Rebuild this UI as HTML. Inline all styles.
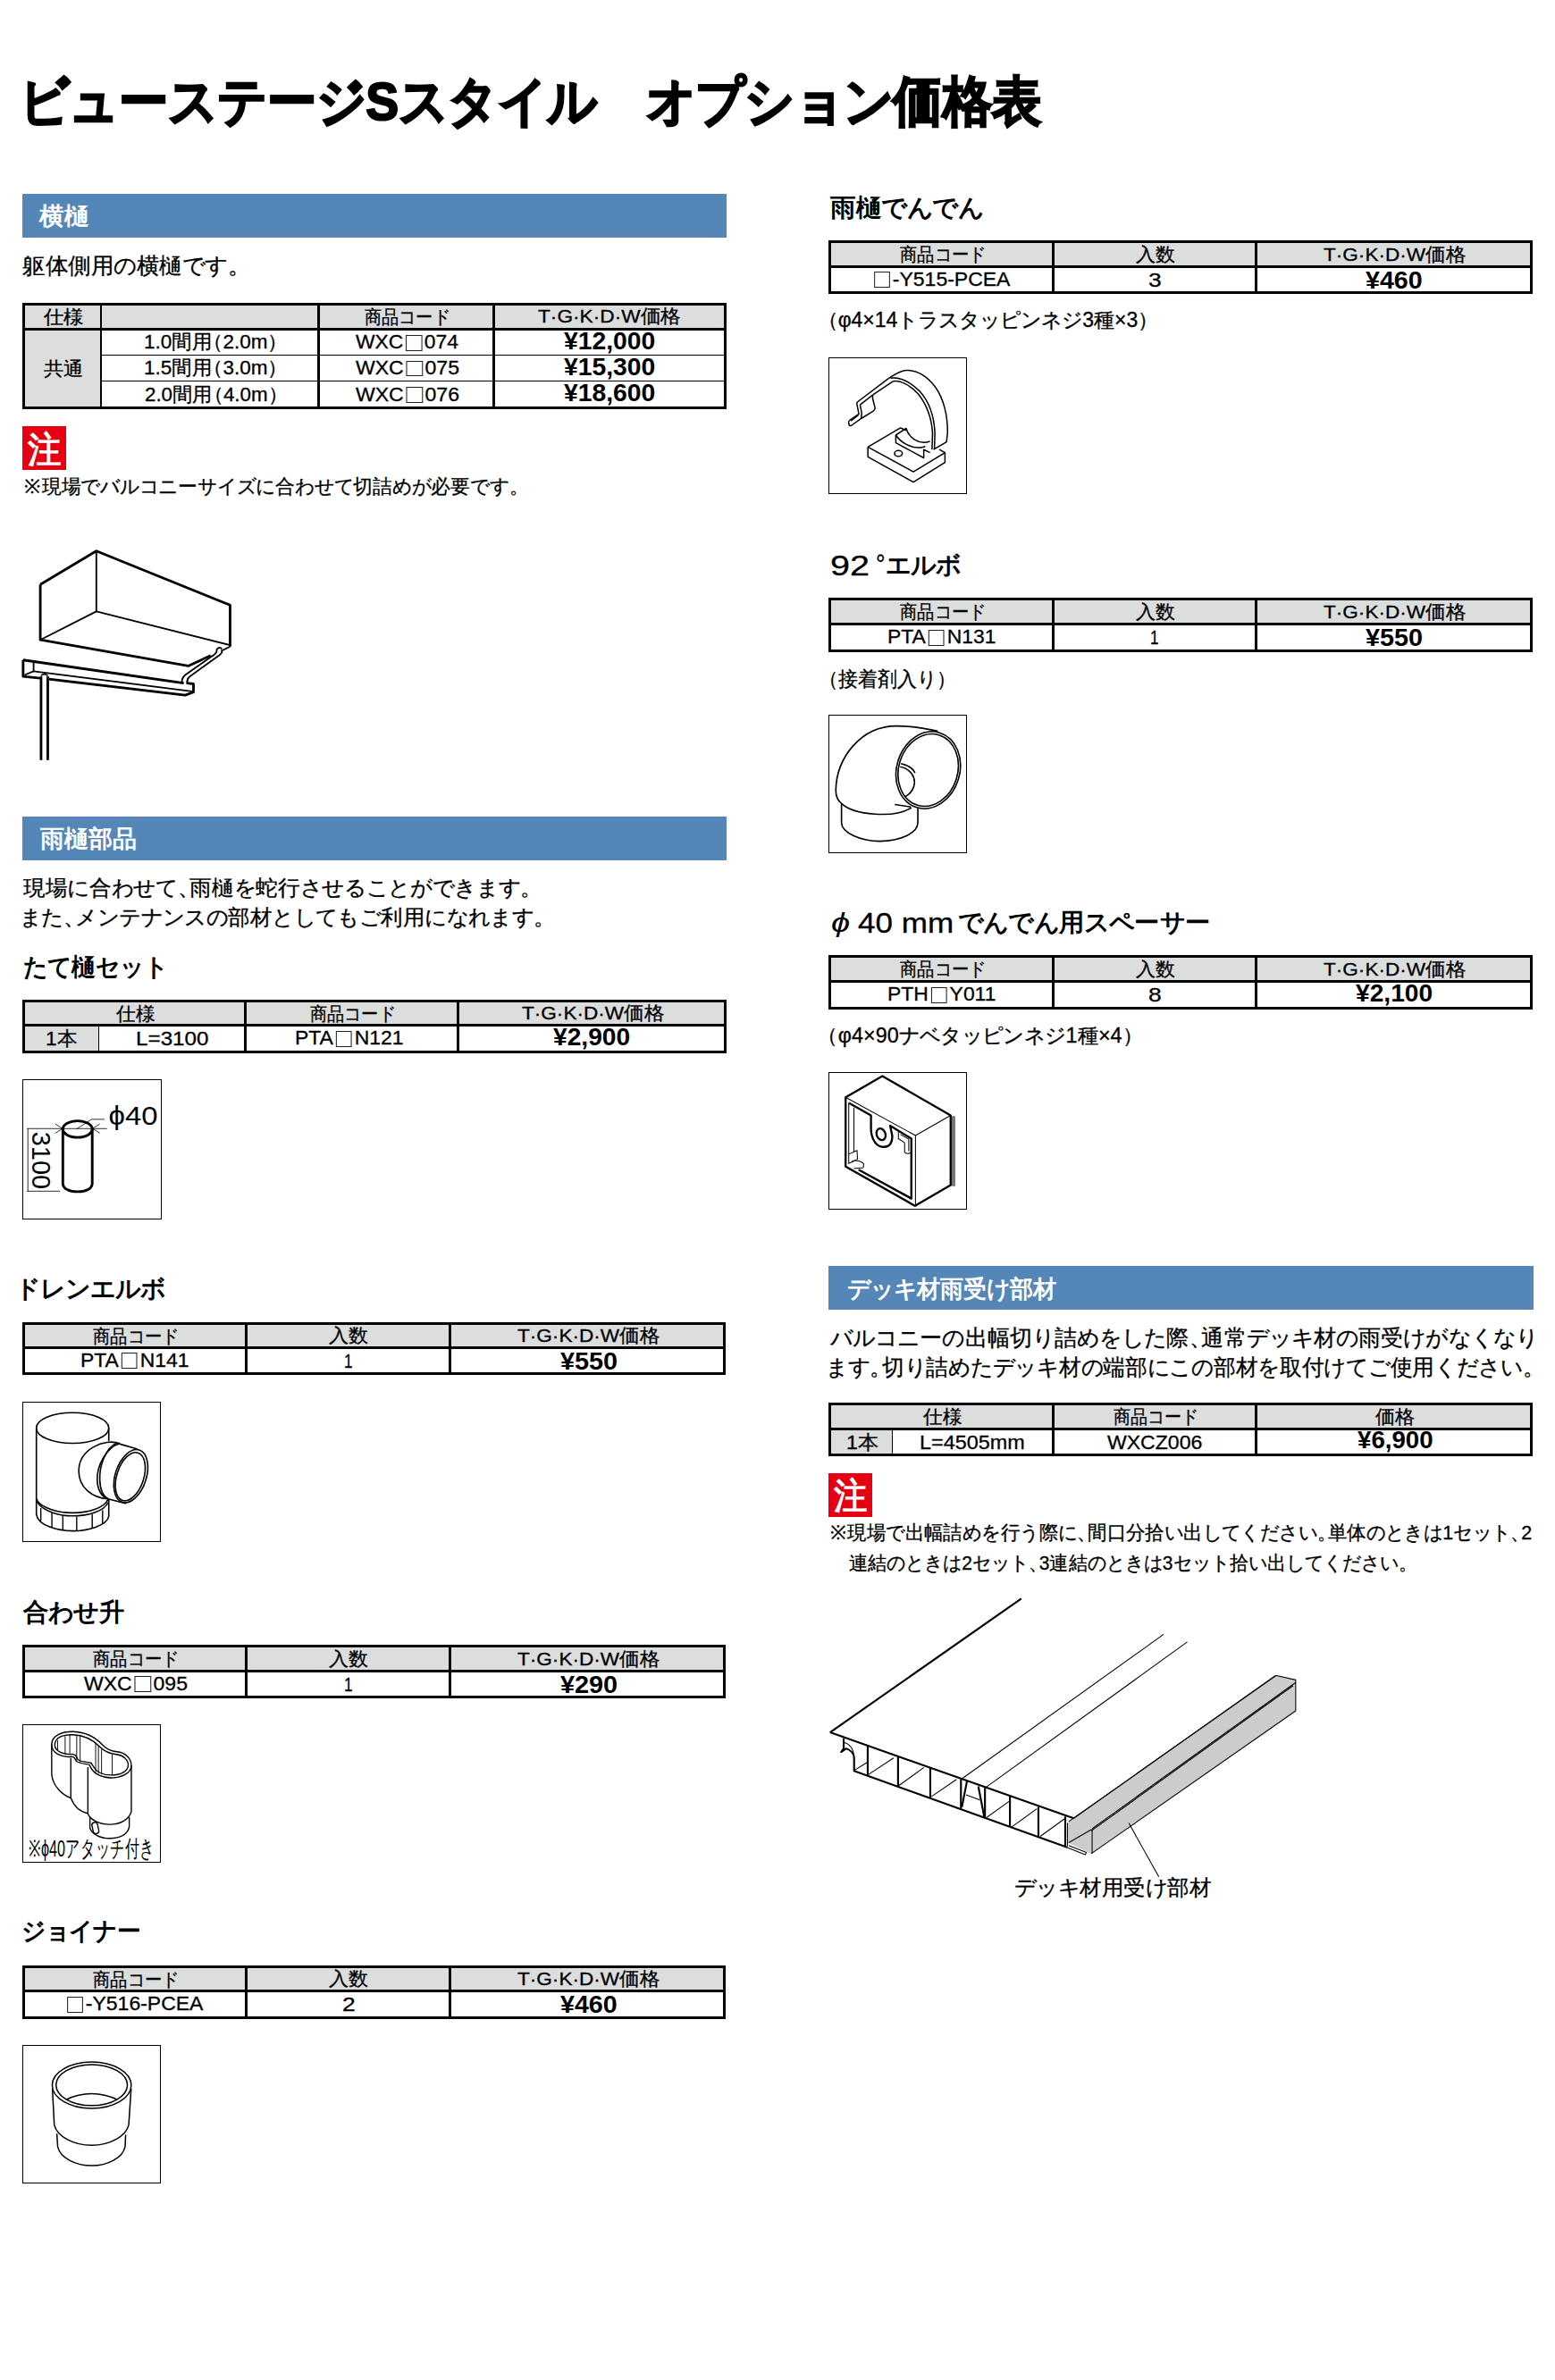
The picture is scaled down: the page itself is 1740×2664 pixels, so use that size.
<!DOCTYPE html>
<html><head><meta charset="utf-8"><title>ビューステージSスタイル オプション価格表</title><style>
*{margin:0;padding:0}
html,body{width:1740px;height:2664px;overflow:hidden;background:#fff}
body{position:relative;font-family:"Liberation Sans",sans-serif;color:#000}
.r{position:absolute;display:block}
.t{position:absolute;white-space:nowrap;transform-origin:0 50%}
i.w{display:inline-block;width:1em;font-style:normal;text-align:center}
.sq{display:inline-block;width:0.8em;height:0.8em;border:1px solid #222;box-sizing:border-box;vertical-align:-0.1em;margin:0 0.12em}
</style></head><body>
<div class="t" style="left:21.78px;top:84.00px;font-size:60px;line-height:60px;font-weight:bold;color:#000;-webkit-text-stroke:2.2px #000;transform:scaleX(0.9219)"><i class="w">ビ</i><i class="w">ュ</i><i class="w">ー</i><i class="w">ス</i><i class="w">テ</i><i class="w">ー</i><i class="w">ジ</i>S<i class="w">ス</i><i class="w">タ</i><i class="w">イ</i><i class="w">ル</i><i class="w">　</i><i class="w">オ</i><i class="w">プ</i><i class="w">シ</i><i class="w">ョ</i><i class="w">ン</i><i class="w">価</i><i class="w">格</i><i class="w">表</i></div>
<div class="r" style="left:25px;top:217px;width:788px;height:49px;background:#5586b8"></div>
<div class="t" style="left:44.30px;top:228.70px;font-size:27px;line-height:27px;font-weight:bold;color:#fff;transform:scaleX(1.0245)"><i class="w">横</i><i class="w">樋</i></div>
<div class="t" style="left:24.98px;top:284.80px;font-size:25px;line-height:25px;font-weight:normal;color:#000;-webkit-text-stroke:0.3px #000;transform:scaleX(1.0216)"><i class="w">躯</i><i class="w">体</i><i class="w">側</i><i class="w">用</i><i class="w">の</i><i class="w">横</i><i class="w">樋</i><i class="w">で</i><i class="w">す</i><i class="w" style="margin-right:-0.45em">。</i></div>
<div class="r" style="left:28px;top:342px;width:782px;height:25px;background:#dcdddd"></div>
<div class="r" style="left:28px;top:370px;width:84px;height:85px;background:#dcdddd"></div>
<div class="r" style="left:25px;top:339px;width:788px;height:119px;border:3px solid #000;box-sizing:border-box"></div>
<div class="r" style="left:25px;top:367px;width:788px;height:3px;background:#000"></div>
<div class="r" style="left:112px;top:339px;width:2px;height:119px;background:#000"></div>
<div class="r" style="left:355px;top:339px;width:3px;height:119px;background:#000"></div>
<div class="r" style="left:551px;top:339px;width:3px;height:119px;background:#000"></div>
<div class="r" style="left:112px;top:397px;width:698px;height:1px;background:#000"></div>
<div class="r" style="left:112px;top:426px;width:698px;height:1px;background:#000"></div>
<div class="t" style="left:48.65px;top:343.50px;font-size:21px;line-height:21px;font-weight:normal;color:#000;-webkit-text-stroke:0.3px #000;transform:scaleX(1.0659)"><i class="w">仕</i><i class="w">様</i></div>
<div class="t" style="left:407.80px;top:343.80px;font-size:21px;line-height:21px;font-weight:normal;color:#000;-webkit-text-stroke:0.3px #000;transform:scaleX(0.9118)"><i class="w">商</i><i class="w">品</i><i class="w">コ</i><i class="w">ー</i><i class="w">ド</i></div>
<div class="t" style="left:602.45px;top:343.30px;font-size:21px;line-height:21px;font-weight:normal;color:#000;-webkit-text-stroke:0.3px #000;transform:scaleX(1.0796)">T·G·K·D·W<i class="w">価</i><i class="w">格</i></div>
<div class="t" style="left:48.70px;top:402.20px;font-size:21px;line-height:21px;font-weight:normal;color:#000;-webkit-text-stroke:0.3px #000;transform:scaleX(1.0537)"><i class="w">共</i><i class="w">通</i></div>
<div class="t" style="left:160.96px;top:372.40px;font-size:22px;line-height:22px;font-weight:normal;color:#000;-webkit-text-stroke:0.3px #000;transform:scaleX(1.0211)">1.0<i class="w">間</i><i class="w">用</i><i class="w" style="margin-left:-0.45em">（</i>2.0m<i class="w" style="margin-right:-0.45em">）</i></div>
<div class="t" style="left:397.50px;top:372.40px;font-size:22px;line-height:22px;font-weight:normal;color:#000;-webkit-text-stroke:0.3px #000;transform:scaleX(1.0360)">WXC<span class="sq"></span>074</div>
<div class="t" style="left:630.80px;top:368.90px;font-size:27px;line-height:27px;font-weight:bold;color:#000;transform:scaleX(1.0474)">¥12,000</div>
<div class="t" style="left:160.96px;top:401.10px;font-size:22px;line-height:22px;font-weight:normal;color:#000;-webkit-text-stroke:0.3px #000;transform:scaleX(1.0211)">1.5<i class="w">間</i><i class="w">用</i><i class="w" style="margin-left:-0.45em">（</i>3.0m<i class="w" style="margin-right:-0.45em">）</i></div>
<div class="t" style="left:397.50px;top:401.10px;font-size:22px;line-height:22px;font-weight:normal;color:#000;-webkit-text-stroke:0.3px #000;transform:scaleX(1.0455)">WXC<span class="sq"></span>075</div>
<div class="t" style="left:630.80px;top:397.60px;font-size:27px;line-height:27px;font-weight:bold;color:#000;transform:scaleX(1.0474)">¥15,300</div>
<div class="t" style="left:161.99px;top:430.80px;font-size:22px;line-height:22px;font-weight:normal;color:#000;-webkit-text-stroke:0.3px #000;transform:scaleX(1.0140)">2.0<i class="w">間</i><i class="w">用</i><i class="w" style="margin-left:-0.45em">（</i>4.0m<i class="w" style="margin-right:-0.45em">）</i></div>
<div class="t" style="left:397.50px;top:430.80px;font-size:22px;line-height:22px;font-weight:normal;color:#000;-webkit-text-stroke:0.3px #000;transform:scaleX(1.0455)">WXC<span class="sq"></span>076</div>
<div class="t" style="left:630.80px;top:427.30px;font-size:27px;line-height:27px;font-weight:bold;color:#000;transform:scaleX(1.0474)">¥18,600</div>
<div class="r" style="left:25px;top:477px;width:49px;height:49px;background:#e60012"></div>
<div class="t" style="left:31.40px;top:483.10px;font-size:40px;line-height:40px;font-weight:bold;color:#fff;transform:scaleX(0.9385)"><i class="w">注</i></div>
<div class="t" style="left:24.53px;top:533.60px;font-size:22px;line-height:22px;font-weight:normal;color:#000;-webkit-text-stroke:0.3px #000;transform:scaleX(0.9901)"><i class="w">※</i><i class="w">現</i><i class="w">場</i><i class="w">で</i><i class="w">バ</i><i class="w">ル</i><i class="w">コ</i><i class="w">ニ</i><i class="w">ー</i><i class="w">サ</i><i class="w">イ</i><i class="w">ズ</i><i class="w">に</i><i class="w">合</i><i class="w">わ</i><i class="w">せ</i><i class="w">て</i><i class="w">切</i><i class="w">詰</i><i class="w">め</i><i class="w">が</i><i class="w">必</i><i class="w">要</i><i class="w">で</i><i class="w">す</i><i class="w" style="margin-right:-0.45em">。</i></div>
<div class="r" style="left:25px;top:914px;width:788px;height:49px;background:#5586b8"></div>
<div class="t" style="left:45.00px;top:926.00px;font-size:27px;line-height:27px;font-weight:bold;color:#fff;transform:scaleX(1.0000)"><i class="w">雨</i><i class="w">樋</i><i class="w">部</i><i class="w">品</i></div>
<div class="t" style="left:25.80px;top:982.00px;font-size:24px;line-height:24px;font-weight:normal;color:#000;-webkit-text-stroke:0.3px #000;transform:scaleX(1.0277)"><i class="w">現</i><i class="w">場</i><i class="w">に</i><i class="w">合</i><i class="w">わ</i><i class="w">せ</i><i class="w">て</i><i class="w" style="margin-right:-0.45em">、</i><i class="w">雨</i><i class="w">樋</i><i class="w">を</i><i class="w">蛇</i><i class="w">行</i><i class="w">さ</i><i class="w">せ</i><i class="w">る</i><i class="w">こ</i><i class="w">と</i><i class="w">が</i><i class="w">で</i><i class="w">き</i><i class="w">ま</i><i class="w">す</i><i class="w" style="margin-right:-0.45em">。</i></div>
<div class="t" style="left:21.73px;top:1015.40px;font-size:24px;line-height:24px;font-weight:normal;color:#000;-webkit-text-stroke:0.3px #000;transform:scaleX(1.0179)"><i class="w">ま</i><i class="w">た</i><i class="w" style="margin-right:-0.45em">、</i><i class="w">メ</i><i class="w">ン</i><i class="w">テ</i><i class="w">ナ</i><i class="w">ン</i><i class="w">ス</i><i class="w">の</i><i class="w">部</i><i class="w">材</i><i class="w">と</i><i class="w">し</i><i class="w">て</i><i class="w">も</i><i class="w">ご</i><i class="w">利</i><i class="w">用</i><i class="w">に</i><i class="w">な</i><i class="w">れ</i><i class="w">ま</i><i class="w">す</i><i class="w" style="margin-right:-0.45em">。</i></div>
<div class="t" style="left:26.04px;top:1068.70px;font-size:28px;line-height:28px;font-weight:bold;color:#000;transform:scaleX(0.9609)"><i class="w">た</i><i class="w">て</i><i class="w">樋</i><i class="w">セ</i><i class="w">ッ</i><i class="w">ト</i></div>
<div class="r" style="left:28px;top:1122px;width:782px;height:24px;background:#dcdddd"></div>
<div class="r" style="left:28px;top:1149px;width:82px;height:27px;background:#dcdddd"></div>
<div class="r" style="left:25px;top:1119px;width:788px;height:60px;border:3px solid #000;box-sizing:border-box"></div>
<div class="r" style="left:25px;top:1146px;width:788px;height:3px;background:#000"></div>
<div class="r" style="left:273px;top:1119px;width:3px;height:60px;background:#000"></div>
<div class="r" style="left:511px;top:1119px;width:3px;height:60px;background:#000"></div>
<div class="r" style="left:110px;top:1149px;width:1px;height:27px;background:#000"></div>
<div class="t" style="left:129.60px;top:1123.70px;font-size:21px;line-height:21px;font-weight:normal;color:#000;-webkit-text-stroke:0.3px #000;transform:scaleX(1.0341)"><i class="w">仕</i><i class="w">様</i></div>
<div class="t" style="left:347.10px;top:1123.80px;font-size:21px;line-height:21px;font-weight:normal;color:#000;-webkit-text-stroke:0.3px #000;transform:scaleX(0.9118)"><i class="w">商</i><i class="w">品</i><i class="w">コ</i><i class="w">ー</i><i class="w">ド</i></div>
<div class="t" style="left:584.00px;top:1123.30px;font-size:21px;line-height:21px;font-weight:normal;color:#000;-webkit-text-stroke:0.3px #000;transform:scaleX(1.0748)">T·G·K·D·W<i class="w">価</i><i class="w">格</i></div>
<div class="t" style="left:51.35px;top:1152.00px;font-size:22px;line-height:22px;font-weight:normal;color:#000;-webkit-text-stroke:0.3px #000;transform:scaleX(1.0258)">1<i class="w">本</i></div>
<div class="t" style="left:151.50px;top:1152.40px;font-size:22px;line-height:22px;font-weight:normal;color:#000;-webkit-text-stroke:0.3px #000;transform:scaleX(1.1014)">L=3100</div>
<div class="t" style="left:330.42px;top:1151.40px;font-size:22px;line-height:22px;font-weight:normal;color:#000;-webkit-text-stroke:0.3px #000;transform:scaleX(1.0421)">PTA<span class="sq"></span>N121</div>
<div class="t" style="left:619.45px;top:1147.90px;font-size:27px;line-height:27px;font-weight:bold;color:#000;transform:scaleX(1.0427)">¥2,900</div>
<div class="r" style="left:25px;top:1208px;width:156px;height:157px;border:1px solid #000;box-sizing:border-box"></div>
<div class="t" style="left:17.00px;top:1429.00px;font-size:28px;line-height:28px;font-weight:bold;color:#000;transform:scaleX(1.0000)"><i class="w">ド</i><i class="w">レ</i><i class="w">ン</i><i class="w">エ</i><i class="w">ル</i><i class="w">ボ</i></div>
<div class="r" style="left:28px;top:1483px;width:781px;height:24px;background:#dcdddd"></div>
<div class="r" style="left:25px;top:1480px;width:787px;height:59px;border:3px solid #000;box-sizing:border-box"></div>
<div class="r" style="left:25px;top:1507px;width:787px;height:3px;background:#000"></div>
<div class="r" style="left:274px;top:1480px;width:3px;height:59px;background:#000"></div>
<div class="r" style="left:502px;top:1480px;width:3px;height:59px;background:#000"></div>
<div class="t" style="left:104.25px;top:1484.80px;font-size:21px;line-height:21px;font-weight:normal;color:#000;-webkit-text-stroke:0.3px #000;transform:scaleX(0.9167)"><i class="w">商</i><i class="w">品</i><i class="w">コ</i><i class="w">ー</i><i class="w">ド</i></div>
<div class="t" style="left:368.06px;top:1484.30px;font-size:21px;line-height:21px;font-weight:normal;color:#000;-webkit-text-stroke:0.3px #000;transform:scaleX(1.0450)"><i class="w">入</i><i class="w">数</i></div>
<div class="t" style="left:579.00px;top:1484.30px;font-size:21px;line-height:21px;font-weight:normal;color:#000;-webkit-text-stroke:0.3px #000;transform:scaleX(1.0748)">T·G·K·D·W<i class="w">価</i><i class="w">格</i></div>
<div class="t" style="left:89.57px;top:1511.90px;font-size:22px;line-height:22px;font-weight:normal;color:#000;-webkit-text-stroke:0.3px #000;transform:scaleX(1.0412)">PTA<span class="sq"></span>N141</div>
<div class="t" style="left:384.94px;top:1512.90px;font-size:22px;line-height:22px;font-weight:normal;color:#000;-webkit-text-stroke:0.3px #000;transform:scaleX(0.7778)">1</div>
<div class="t" style="left:626.50px;top:1510.90px;font-size:27px;line-height:27px;font-weight:bold;color:#000;transform:scaleX(1.0678)">¥550</div>
<div class="r" style="left:25px;top:1569px;width:155px;height:157px;border:1px solid #000;box-sizing:border-box"></div>
<div class="t" style="left:26.00px;top:1790.50px;font-size:28px;line-height:28px;font-weight:bold;color:#000;transform:scaleX(1.0089)"><i class="w">合</i><i class="w">わ</i><i class="w">せ</i><i class="w">升</i></div>
<div class="r" style="left:28px;top:1844px;width:781px;height:25px;background:#dcdddd"></div>
<div class="r" style="left:25px;top:1841px;width:787px;height:60px;border:3px solid #000;box-sizing:border-box"></div>
<div class="r" style="left:25px;top:1869px;width:787px;height:3px;background:#000"></div>
<div class="r" style="left:274px;top:1841px;width:3px;height:60px;background:#000"></div>
<div class="r" style="left:502px;top:1841px;width:3px;height:60px;background:#000"></div>
<div class="t" style="left:104.25px;top:1846.30px;font-size:21px;line-height:21px;font-weight:normal;color:#000;-webkit-text-stroke:0.3px #000;transform:scaleX(0.9167)"><i class="w">商</i><i class="w">品</i><i class="w">コ</i><i class="w">ー</i><i class="w">ド</i></div>
<div class="t" style="left:368.06px;top:1845.80px;font-size:21px;line-height:21px;font-weight:normal;color:#000;-webkit-text-stroke:0.3px #000;transform:scaleX(1.0450)"><i class="w">入</i><i class="w">数</i></div>
<div class="t" style="left:579.00px;top:1845.80px;font-size:21px;line-height:21px;font-weight:normal;color:#000;-webkit-text-stroke:0.3px #000;transform:scaleX(1.0748)">T·G·K·D·W<i class="w">価</i><i class="w">格</i></div>
<div class="t" style="left:93.50px;top:1873.90px;font-size:22px;line-height:22px;font-weight:normal;color:#000;-webkit-text-stroke:0.3px #000;transform:scaleX(1.0455)">WXC<span class="sq"></span>095</div>
<div class="t" style="left:384.94px;top:1874.90px;font-size:22px;line-height:22px;font-weight:normal;color:#000;-webkit-text-stroke:0.3px #000;transform:scaleX(0.7778)">1</div>
<div class="t" style="left:626.50px;top:1872.90px;font-size:27px;line-height:27px;font-weight:bold;color:#000;transform:scaleX(1.0678)">¥290</div>
<div class="r" style="left:25px;top:1930px;width:155px;height:155px;border:1px solid #000;box-sizing:border-box"></div>
<div class="t" style="left:24.09px;top:2148.00px;font-size:28px;line-height:28px;font-weight:bold;color:#000;transform:scaleX(0.9529)"><i class="w">ジ</i><i class="w">ョ</i><i class="w">イ</i><i class="w">ナ</i><i class="w">ー</i></div>
<div class="r" style="left:28px;top:2203px;width:781px;height:24px;background:#dcdddd"></div>
<div class="r" style="left:25px;top:2200px;width:787px;height:60px;border:3px solid #000;box-sizing:border-box"></div>
<div class="r" style="left:25px;top:2227px;width:787px;height:3px;background:#000"></div>
<div class="r" style="left:274px;top:2200px;width:3px;height:60px;background:#000"></div>
<div class="r" style="left:502px;top:2200px;width:3px;height:60px;background:#000"></div>
<div class="t" style="left:104.25px;top:2204.80px;font-size:21px;line-height:21px;font-weight:normal;color:#000;-webkit-text-stroke:0.3px #000;transform:scaleX(0.9167)"><i class="w">商</i><i class="w">品</i><i class="w">コ</i><i class="w">ー</i><i class="w">ド</i></div>
<div class="t" style="left:368.06px;top:2204.30px;font-size:21px;line-height:21px;font-weight:normal;color:#000;-webkit-text-stroke:0.3px #000;transform:scaleX(1.0450)"><i class="w">入</i><i class="w">数</i></div>
<div class="t" style="left:579.00px;top:2204.30px;font-size:21px;line-height:21px;font-weight:normal;color:#000;-webkit-text-stroke:0.3px #000;transform:scaleX(1.0748)">T·G·K·D·W<i class="w">価</i><i class="w">格</i></div>
<div class="t" style="left:71.62px;top:2232.40px;font-size:22px;line-height:22px;font-weight:normal;color:#000;-webkit-text-stroke:0.3px #000;transform:scaleX(1.0445)"><span class="sq"></span>-Y516-PCEA</div>
<div class="t" style="left:382.80px;top:2233.40px;font-size:22px;line-height:22px;font-weight:normal;color:#000;-webkit-text-stroke:0.3px #000;transform:scaleX(1.2000)">2</div>
<div class="t" style="left:626.75px;top:2231.40px;font-size:27px;line-height:27px;font-weight:bold;color:#000;transform:scaleX(1.0593)">¥460</div>
<div class="r" style="left:25px;top:2289px;width:155px;height:155px;border:1px solid #000;box-sizing:border-box"></div>
<div class="t" style="left:928.50px;top:218.50px;font-size:28px;line-height:28px;font-weight:bold;color:#000;transform:scaleX(1.0210)"><i class="w">雨</i><i class="w">樋</i><i class="w">で</i><i class="w">ん</i><i class="w">で</i><i class="w">ん</i></div>
<div class="r" style="left:930px;top:272px;width:782px;height:25px;background:#dcdddd"></div>
<div class="r" style="left:927px;top:269px;width:788px;height:60px;border:3px solid #000;box-sizing:border-box"></div>
<div class="r" style="left:927px;top:297px;width:788px;height:3px;background:#000"></div>
<div class="r" style="left:1177px;top:269px;width:3px;height:60px;background:#000"></div>
<div class="r" style="left:1404px;top:269px;width:3px;height:60px;background:#000"></div>
<div class="t" style="left:1007.25px;top:274.30px;font-size:21px;line-height:21px;font-weight:normal;color:#000;-webkit-text-stroke:0.3px #000;transform:scaleX(0.9167)"><i class="w">商</i><i class="w">品</i><i class="w">コ</i><i class="w">ー</i><i class="w">ド</i></div>
<div class="t" style="left:1270.55px;top:273.80px;font-size:21px;line-height:21px;font-weight:normal;color:#000;-webkit-text-stroke:0.3px #000;transform:scaleX(1.0450)"><i class="w">入</i><i class="w">数</i></div>
<div class="t" style="left:1480.70px;top:273.80px;font-size:21px;line-height:21px;font-weight:normal;color:#000;-webkit-text-stroke:0.3px #000;transform:scaleX(1.0748)">T·G·K·D·W<i class="w">価</i><i class="w">格</i></div>
<div class="t" style="left:974.62px;top:301.90px;font-size:22px;line-height:22px;font-weight:normal;color:#000;-webkit-text-stroke:0.3px #000;transform:scaleX(1.0445)"><span class="sq"></span>-Y515-PCEA</div>
<div class="t" style="left:1285.30px;top:302.90px;font-size:22px;line-height:22px;font-weight:normal;color:#000;-webkit-text-stroke:0.3px #000;transform:scaleX(1.2000)">3</div>
<div class="t" style="left:1528.45px;top:300.90px;font-size:27px;line-height:27px;font-weight:bold;color:#000;transform:scaleX(1.0593)">¥460</div>
<div class="t" style="left:925.40px;top:347.00px;font-size:23px;line-height:23px;font-weight:normal;color:#000;-webkit-text-stroke:0.3px #000;transform:scaleX(0.9997)"><i class="w" style="margin-left:-0.45em">（</i>φ4×14<i class="w">ト</i><i class="w">ラ</i><i class="w">ス</i><i class="w">タ</i><i class="w">ッ</i><i class="w">ピ</i><i class="w">ン</i><i class="w">ネ</i><i class="w">ジ</i>3<i class="w">種</i>×3<i class="w" style="margin-right:-0.45em">）</i></div>
<div class="r" style="left:927px;top:400px;width:155px;height:153px;border:1px solid #000;box-sizing:border-box"></div>
<div class="t" style="left:928.96px;top:616.50px;font-size:32px;line-height:32px;font-weight:normal;color:#000;-webkit-text-stroke:0.3px #000;transform:scaleX(1.2364)">92</div>
<div class="t" style="left:980.25px;top:616.00px;font-size:30px;line-height:30px;font-weight:normal;color:#000;-webkit-text-stroke:0.3px #000;transform:scaleX(0.8750)">°</div>
<div class="t" style="left:990.99px;top:619.30px;font-size:28px;line-height:28px;font-weight:bold;color:#000;transform:scaleX(1.0061)"><i class="w">エ</i><i class="w">ル</i><i class="w">ボ</i></div>
<div class="r" style="left:930px;top:672px;width:782px;height:25px;background:#dcdddd"></div>
<div class="r" style="left:927px;top:669px;width:788px;height:61px;border:3px solid #000;box-sizing:border-box"></div>
<div class="r" style="left:927px;top:697px;width:788px;height:3px;background:#000"></div>
<div class="r" style="left:1177px;top:669px;width:3px;height:61px;background:#000"></div>
<div class="r" style="left:1404px;top:669px;width:3px;height:61px;background:#000"></div>
<div class="t" style="left:1007.25px;top:674.30px;font-size:21px;line-height:21px;font-weight:normal;color:#000;-webkit-text-stroke:0.3px #000;transform:scaleX(0.9167)"><i class="w">商</i><i class="w">品</i><i class="w">コ</i><i class="w">ー</i><i class="w">ド</i></div>
<div class="t" style="left:1270.55px;top:673.80px;font-size:21px;line-height:21px;font-weight:normal;color:#000;-webkit-text-stroke:0.3px #000;transform:scaleX(1.0450)"><i class="w">入</i><i class="w">数</i></div>
<div class="t" style="left:1480.70px;top:673.80px;font-size:21px;line-height:21px;font-weight:normal;color:#000;-webkit-text-stroke:0.3px #000;transform:scaleX(1.0748)">T·G·K·D·W<i class="w">価</i><i class="w">格</i></div>
<div class="t" style="left:992.57px;top:702.40px;font-size:22px;line-height:22px;font-weight:normal;color:#000;-webkit-text-stroke:0.3px #000;transform:scaleX(1.0412)">PTA<span class="sq"></span>N131</div>
<div class="t" style="left:1287.44px;top:703.40px;font-size:22px;line-height:22px;font-weight:normal;color:#000;-webkit-text-stroke:0.3px #000;transform:scaleX(0.7778)">1</div>
<div class="t" style="left:1528.20px;top:701.40px;font-size:27px;line-height:27px;font-weight:bold;color:#000;transform:scaleX(1.0678)">¥550</div>
<div class="t" style="left:925.64px;top:749.00px;font-size:23px;line-height:23px;font-weight:normal;color:#000;-webkit-text-stroke:0.3px #000;transform:scaleX(0.9527)"><i class="w" style="margin-left:-0.45em">（</i><i class="w">接</i><i class="w">着</i><i class="w">剤</i><i class="w">入</i><i class="w">り</i><i class="w" style="margin-right:-0.45em">）</i></div>
<div class="r" style="left:927px;top:800px;width:155px;height:155px;border:1px solid #000;box-sizing:border-box"></div>
<div class="t" style="left:929.73px;top:1017.60px;font-size:30px;line-height:30px;font-weight:normal;color:#000;font-style:italic;transform:scaleX(1.2667)">ϕ</div>
<div class="t" style="left:959.91px;top:1016.90px;font-size:32px;line-height:32px;font-weight:normal;color:#000;-webkit-text-stroke:0.3px #000;transform:scaleX(1.0947)">40 mm</div>
<div class="t" style="left:1071.99px;top:1019.30px;font-size:28px;line-height:28px;font-weight:bold;color:#000;transform:scaleX(1.0072)"><i class="w">で</i><i class="w">ん</i><i class="w">で</i><i class="w">ん</i><i class="w">用</i><i class="w">ス</i><i class="w">ペ</i><i class="w">ー</i><i class="w">サ</i><i class="w">ー</i></div>
<div class="r" style="left:930px;top:1072px;width:782px;height:25px;background:#dcdddd"></div>
<div class="r" style="left:927px;top:1069px;width:788px;height:61px;border:3px solid #000;box-sizing:border-box"></div>
<div class="r" style="left:927px;top:1097px;width:788px;height:3px;background:#000"></div>
<div class="r" style="left:1177px;top:1069px;width:3px;height:61px;background:#000"></div>
<div class="r" style="left:1404px;top:1069px;width:3px;height:61px;background:#000"></div>
<div class="t" style="left:1007.25px;top:1074.30px;font-size:21px;line-height:21px;font-weight:normal;color:#000;-webkit-text-stroke:0.3px #000;transform:scaleX(0.9167)"><i class="w">商</i><i class="w">品</i><i class="w">コ</i><i class="w">ー</i><i class="w">ド</i></div>
<div class="t" style="left:1270.55px;top:1073.80px;font-size:21px;line-height:21px;font-weight:normal;color:#000;-webkit-text-stroke:0.3px #000;transform:scaleX(1.0450)"><i class="w">入</i><i class="w">数</i></div>
<div class="t" style="left:1480.70px;top:1073.80px;font-size:21px;line-height:21px;font-weight:normal;color:#000;-webkit-text-stroke:0.3px #000;transform:scaleX(1.0748)">T·G·K·D·W<i class="w">価</i><i class="w">格</i></div>
<div class="t" style="left:992.57px;top:1102.40px;font-size:22px;line-height:22px;font-weight:normal;color:#000;-webkit-text-stroke:0.3px #000;transform:scaleX(1.0412)">PTH<span class="sq"></span>Y011</div>
<div class="t" style="left:1285.30px;top:1103.40px;font-size:22px;line-height:22px;font-weight:normal;color:#000;-webkit-text-stroke:0.3px #000;transform:scaleX(1.2000)">8</div>
<div class="t" style="left:1516.95px;top:1098.90px;font-size:27px;line-height:27px;font-weight:bold;color:#000;transform:scaleX(1.0427)">¥2,100</div>
<div class="t" style="left:925.32px;top:1148.00px;font-size:23px;line-height:23px;font-weight:normal;color:#000;-webkit-text-stroke:0.3px #000;transform:scaleX(1.0159)"><i class="w" style="margin-left:-0.45em">（</i>φ4×90<i class="w">ナ</i><i class="w">ベ</i><i class="w">タ</i><i class="w">ッ</i><i class="w">ピ</i><i class="w">ン</i><i class="w">ネ</i><i class="w">ジ</i>1<i class="w">種</i>×4<i class="w" style="margin-right:-0.45em">）</i></div>
<div class="r" style="left:927px;top:1200px;width:155px;height:154px;border:1px solid #000;box-sizing:border-box"></div>
<div class="r" style="left:927px;top:1417px;width:789px;height:49px;background:#5586b8"></div>
<div class="t" style="left:947.64px;top:1429.60px;font-size:27px;line-height:27px;font-weight:bold;color:#fff;transform:scaleX(0.9645)"><i class="w">デ</i><i class="w">ッ</i><i class="w">キ</i><i class="w">材</i><i class="w">雨</i><i class="w">受</i><i class="w">け</i><i class="w">部</i><i class="w">材</i></div>
<div class="t" style="left:928.90px;top:1484.50px;font-size:25px;line-height:25px;font-weight:normal;color:#000;-webkit-text-stroke:0.3px #000;transform:scaleX(1.0040)"><i class="w">バ</i><i class="w">ル</i><i class="w">コ</i><i class="w">ニ</i><i class="w">ー</i><i class="w">の</i><i class="w">出</i><i class="w">幅</i><i class="w">切</i><i class="w">り</i><i class="w">詰</i><i class="w">め</i><i class="w">を</i><i class="w">し</i><i class="w">た</i><i class="w">際</i><i class="w" style="margin-right:-0.45em">、</i><i class="w">通</i><i class="w">常</i><i class="w">デ</i><i class="w">ッ</i><i class="w">キ</i><i class="w">材</i><i class="w">の</i><i class="w">雨</i><i class="w">受</i><i class="w">け</i><i class="w">が</i><i class="w">な</i><i class="w">く</i><i class="w">な</i><i class="w">り</i></div>
<div class="t" style="left:923.96px;top:1517.70px;font-size:25px;line-height:25px;font-weight:normal;color:#000;-webkit-text-stroke:0.3px #000;transform:scaleX(0.9888)"><i class="w">ま</i><i class="w">す</i><i class="w" style="margin-right:-0.45em">。</i><i class="w">切</i><i class="w">り</i><i class="w">詰</i><i class="w">め</i><i class="w">た</i><i class="w">デ</i><i class="w">ッ</i><i class="w">キ</i><i class="w">材</i><i class="w">の</i><i class="w">端</i><i class="w">部</i><i class="w">に</i><i class="w">こ</i><i class="w">の</i><i class="w">部</i><i class="w">材</i><i class="w">を</i><i class="w">取</i><i class="w">付</i><i class="w">け</i><i class="w">て</i><i class="w">ご</i><i class="w">使</i><i class="w">用</i><i class="w">く</i><i class="w">だ</i><i class="w">さ</i><i class="w">い</i><i class="w" style="margin-right:-0.45em">。</i></div>
<div class="r" style="left:930px;top:1573px;width:782px;height:25px;background:#dcdddd"></div>
<div class="r" style="left:930px;top:1601px;width:68px;height:26px;background:#dcdddd"></div>
<div class="r" style="left:927px;top:1570px;width:788px;height:60px;border:3px solid #000;box-sizing:border-box"></div>
<div class="r" style="left:927px;top:1598px;width:788px;height:3px;background:#000"></div>
<div class="r" style="left:1177px;top:1570px;width:3px;height:60px;background:#000"></div>
<div class="r" style="left:1404px;top:1570px;width:3px;height:60px;background:#000"></div>
<div class="r" style="left:998px;top:1601px;width:1px;height:26px;background:#000"></div>
<div class="t" style="left:1032.85px;top:1574.80px;font-size:21px;line-height:21px;font-weight:normal;color:#000;-webkit-text-stroke:0.3px #000;transform:scaleX(1.0317)"><i class="w">仕</i><i class="w">様</i></div>
<div class="t" style="left:1245.70px;top:1575.30px;font-size:21px;line-height:21px;font-weight:normal;color:#000;-webkit-text-stroke:0.3px #000;transform:scaleX(0.9078)"><i class="w">商</i><i class="w">品</i><i class="w">コ</i><i class="w">ー</i><i class="w">ド</i></div>
<div class="t" style="left:1538.50px;top:1574.80px;font-size:21px;line-height:21px;font-weight:normal;color:#000;-webkit-text-stroke:0.3px #000;transform:scaleX(1.0488)"><i class="w">価</i><i class="w">格</i></div>
<div class="t" style="left:946.95px;top:1603.50px;font-size:22px;line-height:22px;font-weight:normal;color:#000;-webkit-text-stroke:0.3px #000;transform:scaleX(1.0484)">1<i class="w">本</i></div>
<div class="t" style="left:1029.02px;top:1603.80px;font-size:22px;line-height:22px;font-weight:normal;color:#000;-webkit-text-stroke:0.3px #000;transform:scaleX(1.0626)">L=4505mm</div>
<div class="t" style="left:1239.10px;top:1603.80px;font-size:22px;line-height:22px;font-weight:normal;color:#000;-webkit-text-stroke:0.3px #000;transform:scaleX(1.0475)">WXCZ006</div>
<div class="t" style="left:1519.00px;top:1599.30px;font-size:27px;line-height:27px;font-weight:bold;color:#000;transform:scaleX(1.0244)">¥6,900</div>
<div class="r" style="left:927px;top:1649px;width:49px;height:49px;background:#e60012"></div>
<div class="t" style="left:933.00px;top:1654.30px;font-size:40px;line-height:40px;font-weight:bold;color:#fff;transform:scaleX(0.9359)"><i class="w">注</i></div>
<div class="t" style="left:927.48px;top:1705.00px;font-size:22px;line-height:22px;font-weight:normal;color:#000;-webkit-text-stroke:0.3px #000;transform:scaleX(0.9732)"><i class="w">※</i><i class="w">現</i><i class="w">場</i><i class="w">で</i><i class="w">出</i><i class="w">幅</i><i class="w">詰</i><i class="w">め</i><i class="w">を</i><i class="w">行</i><i class="w">う</i><i class="w">際</i><i class="w">に</i><i class="w" style="margin-right:-0.45em">、</i><i class="w">間</i><i class="w">口</i><i class="w">分</i><i class="w">拾</i><i class="w">い</i><i class="w">出</i><i class="w">し</i><i class="w">て</i><i class="w">く</i><i class="w">だ</i><i class="w">さ</i><i class="w">い</i><i class="w" style="margin-right:-0.45em">。</i><i class="w">単</i><i class="w">体</i><i class="w">の</i><i class="w">と</i><i class="w">き</i><i class="w">は</i>1<i class="w">セ</i><i class="w">ッ</i><i class="w">ト</i><i class="w" style="margin-right:-0.45em">、</i>2</div>
<div class="t" style="left:950.04px;top:1739.00px;font-size:22px;line-height:22px;font-weight:normal;color:#000;-webkit-text-stroke:0.3px #000;transform:scaleX(0.9569)"><i class="w">連</i><i class="w">結</i><i class="w">の</i><i class="w">と</i><i class="w">き</i><i class="w">は</i>2<i class="w">セ</i><i class="w">ッ</i><i class="w">ト</i><i class="w" style="margin-right:-0.45em">、</i>3<i class="w">連</i><i class="w">結</i><i class="w">の</i><i class="w">と</i><i class="w">き</i><i class="w">は</i>3<i class="w">セ</i><i class="w">ッ</i><i class="w">ト</i><i class="w">拾</i><i class="w">い</i><i class="w">出</i><i class="w">し</i><i class="w">て</i><i class="w">く</i><i class="w">だ</i><i class="w">さ</i><i class="w">い</i><i class="w" style="margin-right:-0.45em">。</i></div>
<div class="t" style="left:1134.78px;top:2101.00px;font-size:24px;line-height:24px;font-weight:normal;color:#000;-webkit-text-stroke:0.3px #000;transform:scaleX(1.0196)"><i class="w">デ</i><i class="w">ッ</i><i class="w">キ</i><i class="w">材</i><i class="w">用</i><i class="w">受</i><i class="w">け</i><i class="w">部</i><i class="w">材</i></div>
<svg class="r" style="left:15px;top:600px" width="260" height="260" viewBox="0 0 1555 1555" fill="none" stroke="#000" stroke-linejoin="round" stroke-linecap="butt">
<g stroke-width="17">
<path d="M180,325 L555,100 L1450,462 L1450,740"/>
<path d="M180,325 L180,695 L1170,870 L1320,800"/>
<path d="M65,830 L65,940 L180,952"/>
<path d="M65,830 L1140,985"/>
<path d="M238,958 L1150,1065 L1205,1045 L1205,990 L1160,985"/>
<path d="M230,940 L230,1500"/>
<path d="M185,940 L185,1500"/>
</g>
<g stroke-width="11">
<path d="M555,100 L555,505 L180,695"/>
<path d="M555,505 L1450,730"/>
<path d="M1450,740 L1400,765"/>
<path d="M135,845 L135,905 L75,930"/>
<path d="M135,905 L1195,1040"/>
<path d="M185,935 Q205,915 230,935"/>
<path d="M1360,760 L1360,775 Q1350,795 1320,810 L1150,930 Q1125,950 1128,985"/>
<path d="M1395,760 L1395,780 Q1390,790 1375,800 L1180,940 Q1160,955 1162,990"/>
<path d="M1360,760 Q1378,738 1395,755"/>
<path d="M1170,870 L1250,835"/>
</g>
</svg>
<svg class="r" style="left:15px;top:1195px" width="180" height="180" viewBox="0 0 1555 1555" fill="none" stroke="#000" stroke-linejoin="round" stroke-linecap="butt">
<g stroke-width="25">
<ellipse cx="620" cy="595" rx="142" ry="80"/>
<path d="M478,595 L478,1120 C478,1170 540,1200 620,1200 C700,1200 762,1170 762,1120 L762,595"/>
</g>
<g stroke-width="7">
<path d="M140,590 L140,1195"/>
<path d="M130,590 L905,590"/>
<path d="M130,1195 L450,1195"/>
<path d="M610,595 L755,500 L880,500"/>
<path d="M405,545 L475,590 L405,635"/>
<path d="M835,545 L765,590 L835,632"/>
</g>
<text x="920" y="550" font-size="262" textLength="475" lengthAdjust="spacingAndGlyphs" fill="#000" stroke="none" font-family="Liberation Sans">ϕ40</text>
<text transform="translate(178,620) rotate(90)" font-size="262" textLength="555" lengthAdjust="spacingAndGlyphs" fill="#000" stroke="none" font-family="Liberation Sans">3100</text>
</svg>
<svg class="r" style="left:15px;top:1555px" width="180" height="180" viewBox="0 0 1555 1555" fill="none" stroke="#000" stroke-linejoin="round" stroke-linecap="butt">
<g stroke-width="14">
<ellipse cx="572" cy="375" rx="350" ry="148"/>
<path d="M222,375 L222,1210 C240,1320 430,1370 572,1370 C720,1370 900,1320 922,1230 L922,1065"/>
<path d="M922,375 L922,500"/>
<path d="M222,1060 C260,1150 440,1195 572,1195 C720,1195 880,1150 915,1065"/>
<path d="M230,1090 C280,1180 450,1225 572,1225 C720,1225 880,1180 915,1095"/>
<path d="M1030,525 C880,470 632,580 632,790 C632,950 760,1050 915,1060"/>
<path d="M1030,525 C900,560 805,740 810,880 C815,980 860,1040 915,1060"/>
<path d="M1000,520 C880,570 830,760 835,880 C840,980 875,1040 915,1060"/>
<path d="M1030,530 L1200,578"/>
<path d="M915,1060 L1090,1105"/>
<ellipse cx="1135" cy="840" rx="150" ry="265" transform="rotate(18 1135 840)"/>
<ellipse cx="1130" cy="845" rx="130" ry="242" transform="rotate(18 1130 845)"/>
</g>
<g stroke-width="12">
<path d="M265,1150 L265,1275 M372,1195 L372,1335 M478,1220 L478,1360 M612,1230 L612,1365 M762,1210 L762,1345 M862,1170 L862,1300"/>
</g>
</svg>
<svg class="r" style="left:15px;top:1920px" width="180" height="180" viewBox="0 0 1555 1555" fill="none" stroke="#000" stroke-linejoin="round" stroke-linecap="butt">
<g stroke-width="12">
<path d="M370,280 C370,190 480,155 580,158 C690,162 780,200 860,285 C900,325 940,348 1000,352 C1085,360 1140,420 1140,485 C1140,560 1040,605 940,605 C860,605 780,570 745,500 L735,478 C700,470 650,468 610,445 L585,405 L560,400 C470,410 370,370 370,280 Z"/>
<path d="M400,285 C400,215 480,185 575,188 C680,192 760,230 830,300 C880,350 935,372 995,378 C1060,385 1110,430 1110,480 C1110,545 1030,578 945,578 C870,578 800,548 770,490 L750,460 C710,450 660,452 625,430 L600,385 L570,375 C490,385 400,350 400,285 Z"/>
<path d="M370,280 L370,570 C380,680 470,770 555,800 L555,415"/>
<path d="M555,800 C590,890 650,935 720,950 L720,500"/>
<path d="M1140,485 L1140,930 C1120,1010 1030,1055 930,1055 C830,1055 740,1010 720,950"/>
<path d="M740,985 L740,1090 C760,1150 840,1190 930,1190 C1030,1190 1110,1150 1120,1075 L1120,985"/>
<rect x="765" y="1035" width="55" height="110" rx="25" transform="rotate(-12 792 1090)"/>
</g>
<g stroke-width="8">
<path d="M428,240 L428,340 M500,200 L500,370 M545,190 L545,375 M612,195 L612,440 M645,192 L645,455 M795,275 L795,560 M822,300 L822,565 M852,330 L852,570 M955,380 L955,578"/>
</g>
<text x="150" y="1362" font-size="225" textLength="1215" lengthAdjust="spacingAndGlyphs" fill="#000" stroke="none" font-family="Liberation Sans">※ϕ40アタッチ付き</text>
</svg>
<svg class="r" style="left:15px;top:2280px" width="180" height="180" viewBox="0 0 1555 1555" fill="none" stroke="#000" stroke-linejoin="round" stroke-linecap="butt">
<g stroke-width="13">
<ellipse cx="757" cy="467" rx="382" ry="225"/>
<ellipse cx="757" cy="465" rx="345" ry="198"/>
<path d="M515,605 C600,560 680,548 757,548 C840,548 920,565 1000,605"/>
<path d="M377,500 L395,850 C420,960 580,1048 757,1048 C930,1048 1090,960 1115,850 L1138,500"/>
<path d="M420,935 L428,1060 C450,1170 600,1245 757,1245 C910,1245 1060,1170 1080,1060 L1085,945"/>
</g>
</svg>
<svg class="r" style="left:915px;top:340px" width="180" height="230" viewBox="0 0 1555 1987" fill="none" stroke="#000" stroke-linejoin="round" stroke-linecap="butt">
<g stroke-width="13">
<path d="M687,721 C760,670 810,642 865,643 C960,645 1060,700 1140,810 C1215,915 1258,1080 1255,1250 L1245,1335 L1120,1410"/>
<path d="M704,719 C800,705 900,760 990,850 C1080,950 1125,1080 1133,1250 L1128,1405"/>
<path d="M731,749 C800,740 900,790 970,870 C1050,970 1100,1090 1110,1250 L1105,1410"/>
<path d="M687,721 L392,944 C378,955 376,965 379,971 L398,1066 L315,1121 C300,1132 297,1140 298,1149 L306,1177 C312,1180 318,1180 326,1177 L420,1110 L520,1049 C545,1035 556,1020 554,1005 L531,916 C529,900 531,885 537,877 L731,749"/>
<path d="M409,977 L426,1060 L420,1105"/>
<path d="M409,977 L531,882"/>
<path d="M320,1132 L392,1077"/>
<path d="M485,1385 L800,1200 L855,1225"/>
<path d="M485,1385 L485,1480 L925,1725 L1230,1535 L1230,1440 L1175,1410"/>
<path d="M485,1385 L925,1625 L1230,1440"/>
<path d="M755,1270 L855,1205 C880,1290 970,1370 1085,1330"/>
<path d="M755,1270 L755,1345 L1025,1490 L1025,1410 L1085,1440"/>
<path d="M755,1270 C800,1340 900,1400 1000,1390 L1040,1380"/>
<ellipse cx="780" cy="1448" rx="38" ry="28"/>
</g>
</svg>
<svg class="r" style="left:915px;top:790px" width="180" height="180" viewBox="0 0 1555 1555" fill="none" stroke="#000" stroke-linejoin="round" stroke-linecap="butt">
<g stroke-width="14">
<path d="M1160,245 C1050,220 900,195 760,195 C420,195 180,500 175,820 C175,880 200,920 230,945 C350,1060 750,1090 905,985"/>
<path d="M230,945 L230,1130 C230,1230 420,1310 600,1310 C800,1310 968,1230 968,1130 L968,990"/>
<ellipse cx="1068" cy="622" rx="305" ry="378" transform="rotate(17 1068 622)"/>
<ellipse cx="1068" cy="622" rx="285" ry="355" transform="rotate(17 1068 622)"/>
<path d="M805,560 C870,575 925,610 940,650"/>
<path d="M797,590 C900,610 940,690 935,750 C930,800 895,850 845,880"/>
<path d="M745,955 L900,978"/>
</g>
</svg>
<svg class="r" style="left:915px;top:1190px" width="180" height="180" viewBox="0 0 1555 1555" fill="none" stroke="#000" stroke-linejoin="round" stroke-linecap="butt">
<rect x="1292" y="512" width="38" height="678" fill="#7b7571" stroke="none"/>
<g stroke-width="20">
<path d="M270,330 L625,125 L1285,505 L1285,1180 L940,1380 L270,1000 Z"/>
<path d="M300,385 L515,505 L515,640 C520,760 580,810 640,810 C700,810 725,760 720,700 L700,605 L905,730 L905,1310 L395,1030"/>
<ellipse cx="612" cy="688" rx="42" ry="58" transform="rotate(-20 612 688)"/>
</g>
<g stroke-width="9">
<path d="M270,330 L945,700 L945,1375"/>
<path d="M945,700 L1285,505"/>
<path d="M300,385 L300,975"/>
<path d="M350,430 L350,860"/>
<path d="M410,1040 L900,1300"/>
<path d="M780,660 L780,730 L840,770 L840,860 C850,880 880,880 905,860"/>
<path d="M800,690 L880,735 L880,850"/>
<path d="M300,880 L380,845 L385,930 L300,970"/>
<path d="M330,960 C340,930 420,940 445,975 L440,1010 L350,1020"/>
</g>
</svg>
<svg class="r" style="left:920px;top:1770px" width="550" height="370" viewBox="0 0 1555 1046" fill="none" stroke="#000" stroke-linejoin="round" stroke-linecap="butt">
<path d="M777,764 L1437,298 L1498,312 L1498,410 L851,862 L777,827 Z" fill="#cbcccc" stroke="none"/>
<g stroke-width="6">
<path d="M25,478 L630,55"/>
<path d="M25,478 L796,750"/>
<path d="M68,496 L68,529 L60,540 L76,529 C92,535 101,545 101,560 L101,600 L775,842"/>
<path d="M144,520 L144,616 M240,556 L240,649 M342,591 L342,687 M439,627 L439,719 M515,654 L515,749 M594,681 L594,777 M684,714 L684,809 M769,744 L769,842"/>
<path d="M458,633 L442,714 M494,649 L513,747"/>
</g>
<g stroke-width="3">
<path d="M439,627 L1080,168"/>
<path d="M515,654 L1155,192"/>
<path d="M104,597 L142,573 M147,611 L226,559 M243,646 L322,589 M346,681 L425,627 M521,747 L592,696 M600,777 L679,720 M690,807 L766,752"/>
<path d="M455,676 L499,692"/>
<path d="M68,510 C85,512 101,530 101,560"/>
<path d="M796,750 L1435,297"/>
<path d="M780,760 L1437,298 L1498,312 L1498,410 L851,862"/>
<path d="M854,783 L1498,320"/>
<path d="M851,790 L1490,330"/>
<path d="M854,783 L854,860"/>
<path d="M776,765 L776,838"/>
<path d="M780,827 L851,786"/>
<path d="M772,841 L832,865 L836,858 L780,836"/>
<path d="M970,765 L1065,935"/>
</g>
</svg>
</body></html>
